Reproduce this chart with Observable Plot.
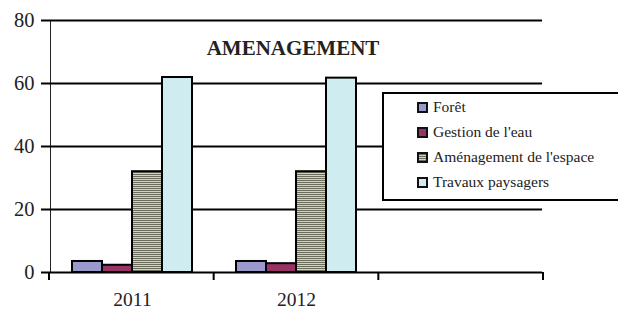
<!DOCTYPE html>
<html><head><meta charset="utf-8">
<script src="https://cdn.jsdelivr.net/npm/d3@7"></script>
<script src="https://cdn.jsdelivr.net/npm/@observablehq/plot@0.6"></script>
<style>
html,body{margin:0;background:#fff;overflow:hidden;width:618px;height:311px}
#chart svg [aria-label^="y-axis"] path, #chart svg [aria-label^="y-axis"] line {stroke-width:2px; stroke:#000}
#chart svg [aria-label^="fx-axis"] text {font-size:19.5px}
</style></head><body><div id="chart"></div>
<script>
// ---- data ----
const years = ["2011", "2012", " "];
const series = ["Forêt", "Gestion de l'eau", "Aménagement de l'espace", "Travaux paysagers"];
const foret = [3.5, 3.5, null];
const gestion = [2.3, 2.8, null];
const amenagement = [32, 32, null];
const travaux = [61.9, 61.7, null];
const colors = ["#9999cc", "#993366", "url(#stripes)", "#cfecf0"];
const yTicks = [0, 20, 40, 60, 80];
const title = "AMENAGEMENT";

const values = [foret, gestion, amenagement, travaux];
const table = [];
years.forEach((yr, i) => series.forEach((s, j) => table.push({year: yr, series: s, value: values[j][i]})));

const serif = "'Liberation Serif', 'Times New Roman', serif";

const plot = Plot.plot({
  width: 618, height: 311,
  marginLeft: 49, marginRight: 75, marginTop: 20, marginBottom: 39,
  style: {fontFamily: serif, fontSize: "20.5px", color: "#222", background: "#fff", overflow: "hidden"},
  fx: {domain: years, padding: 0, axis: "bottom", tickSize: 0, tickPadding: 20, label: null},
  x: {domain: series, paddingInner: 0, paddingOuter: 0.72, axis: null},
  y: {domain: [0, 80], ticks: yTicks, tickSize: 9, tickPadding: 7, line: true, label: null, tickFormat: d => String(d)},
  color: {domain: series, range: colors},
  marks: [
    Plot.ruleY(yTicks, {stroke: "#000", strokeWidth: 2}),
    Plot.barY(table, {fx: "year", x: "series", y: "value", fill: "series", stroke: "#000", strokeWidth: 2})
  ]
});
document.getElementById("chart").appendChild(plot);

const svg = d3.select(plot);
// stripe pattern for "Aménagement de l'espace"
const defs = svg.insert("defs", ":first-child");
const pat = defs.append("pattern").attr("id", "stripes").attr("patternUnits", "userSpaceOnUse")
  .attr("width", 4).attr("height", 2);
pat.append("rect").attr("width", 4).attr("height", 2).attr("fill", "#d3d3bc");
pat.append("rect").attr("width", 4).attr("height", 1).attr("fill", "#6c6c5c");

// band-edge ticks on the category axis
const fxs = plot.scale("fx");
const band = d3.scaleBand().domain(fxs.domain).range(fxs.range).padding(0);
const ys = plot.scale("y");
const yScale = d3.scaleLinear().domain(ys.domain).range(ys.range);
const y0 = yScale(0);
const edges = [band(years[0])].concat(years.map(y => band(y) + band.bandwidth()));
svg.append("g").selectAll("line").data(edges).join("line")
  .attr("x1", d => d).attr("x2", d => d).attr("y1", y0).attr("y2", y0 + 8)
  .attr("stroke", "#000").attr("stroke-width", 2);

// title
svg.append("text").attr("x", 293).attr("y", 55)
  .style("text-anchor", "middle").style("font-family", serif).style("font-weight", "bold")
  .style("font-size", "21px").style("fill", "#222")
  .text(title);

// legend (open on the right: it runs off the edge of the picture)
const lg = svg.append("g");
lg.append("rect").attr("x", 383).attr("y", 93).attr("width", 236).attr("height", 107).attr("fill", "#fff");
lg.append("path").attr("d", "M619,93H383V200H619").attr("fill", "none")
  .attr("stroke", "#000").attr("stroke-width", 2);
series.forEach((s, i) => {
  lg.append("rect").attr("x", 418).attr("y", 103 + 25 * i).attr("width", 9).attr("height", 9)
    .attr("fill", colors[i]).attr("stroke", "#111").attr("stroke-width", 2);
  lg.append("text").attr("x", 433).attr("y", 112 + 25 * i)
    .style("text-anchor", "start").style("font-family", serif).style("font-size", "15.5px")
    .style("fill", "#222").text(s);
});
</script></body></html>
